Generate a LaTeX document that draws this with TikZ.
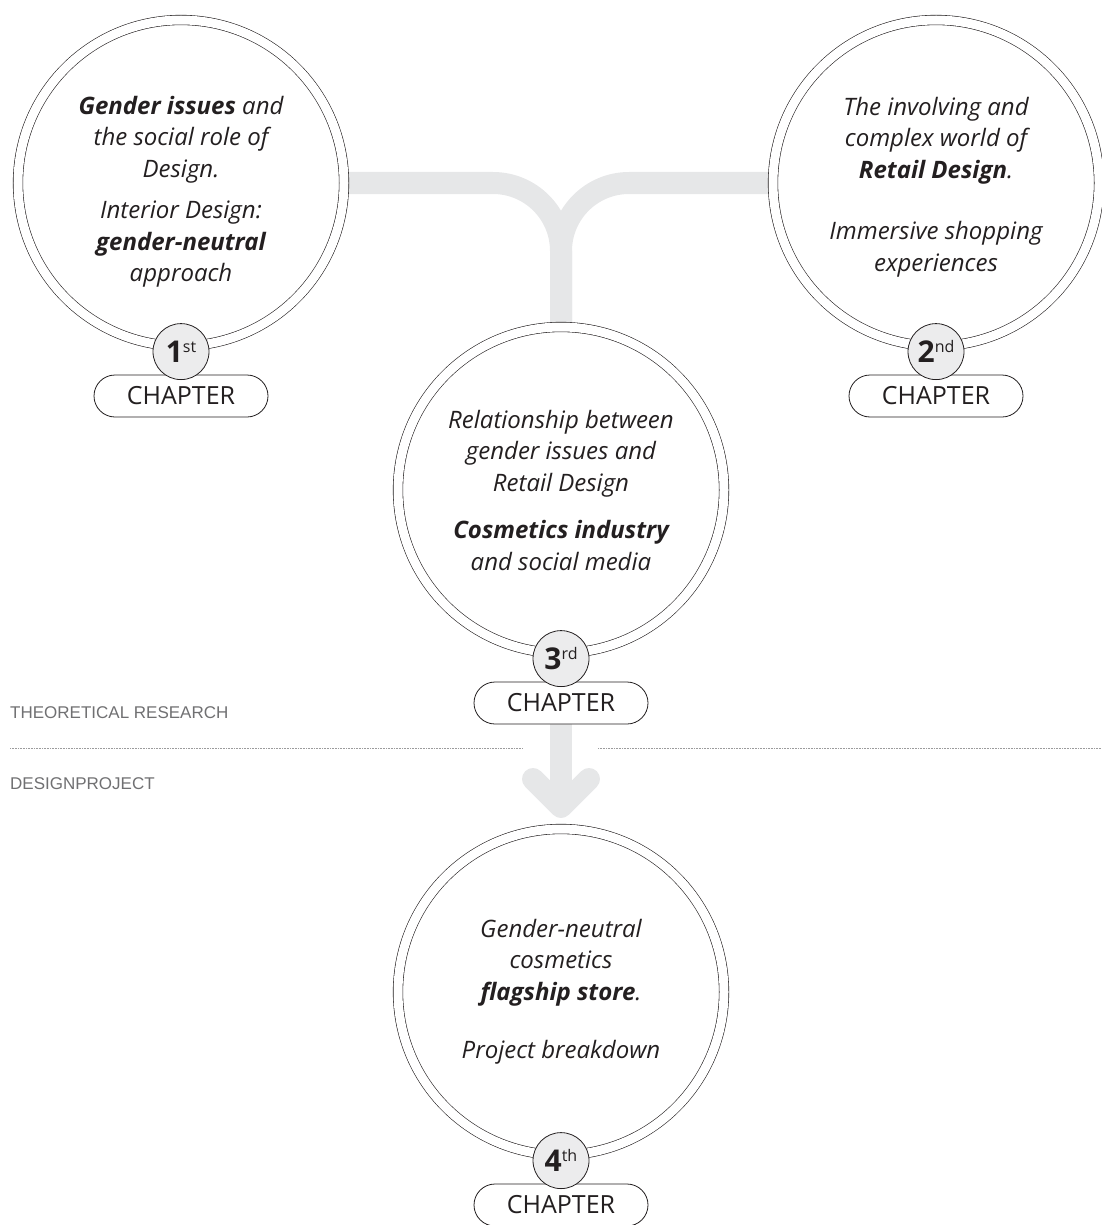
\documentclass[tikz,border=0pt]{standalone}
\usepackage{fontspec}
\setmainfont{Open Sans}
\newfontfamily\labelfont{Liberation Sans}
\usetikzlibrary{positioning, calc, backgrounds}
\definecolor{bandgrey}{RGB}{230,231,232}
\definecolor{badgegrey}{RGB}{236,236,237}
\definecolor{labelgrey}{RGB}{112,112,114}
\definecolor{inkgrey}{RGB}{35,31,32}

\tikzset{
  ring/.style={circle, draw=inkgrey, line width=0.6pt, double=white, double distance=9pt,
               minimum size=326pt, inner sep=0pt, outer sep=0pt},
  ringtext/.style={align=center, inner sep=0pt, text=inkgrey,
                   font=\fontsize{24}{31.5}\selectfont\itshape},
  badge/.style={circle, draw=inkgrey, line width=0.8pt, fill=badgegrey, minimum size=56pt,
                inner sep=0pt, text=inkgrey},
  pill/.style={draw=inkgrey, line width=0.8pt, fill=white, rounded corners=21pt,
               minimum width=174pt, minimum height=42pt, inner sep=0pt, outer sep=0pt,
               font=\fontsize{25}{25}\selectfont, text=inkgrey},
  band/.style={draw=bandgrey, line width=22pt},
  sectionlabel/.style={anchor=west, inner sep=0pt, text=labelgrey,
                       font=\labelfont\fontsize{17}{18}\selectfont},
  divider/.style={draw=labelgrey!70, line width=0.7pt, dash pattern=on 0.8pt off 0.8pt}
}
\newcommand{\chapnum}[2]{\textbf{\fontsize{30}{30}\selectfont #1}\raisebox{10pt}{\fontsize{16}{16}\selectfont #2}}

\begin{document}
\begin{tikzpicture}[x=1pt, y=-1pt]
    \useasboundingbox (0,0) rectangle (1101,1225);

    % chapter circles
    \node[ring] (one) at (181,183) {};
    \node[ring] (two) at (936,183) {};
    \node[ring] (three) at (561,490) {};
    \node[ring] (four) at (561,992) {};
    \node[ringtext] (onetext) at ($(one)+(0,9)$) {\textbf{Gender issues} and\\the social role of\\Design.\\[10pt]Interior Design:\\\textbf{gender-neutral}\\approach};
    \node[ringtext] (twotext) at ($(two)+(0,4)$) {The involving and\\complex world of\\\textbf{Retail Design}.\\[30pt]Immersive shopping\\experiences};
    \node[ringtext] (threetext) at (three) {Relationship between\\gender issues and\\Retail Design\\[16pt]\textbf{Cosmetics industry}\\and social media};
    \node[ringtext] (fourtext) at (four) {Gender-neutral\\cosmetics\\\textbf{flagship store}.\\[27pt]Project breakdown};

    % chapter tags
    \node[pill] (tag1) at ($(one.south)+(0,50)$) {CHAPTER};
    \node[pill] (tag2) at ($(two.south)+(0,50)$) {CHAPTER};
    \node[pill] (tag3) at ($(three.south)+(0,50)$) {CHAPTER};
    \node[pill] (tag4) at ($(four.south)+(0,50)$) {CHAPTER};
    \node[badge, above=-5pt of tag1] (num1) {\chapnum{1}{st}};
    \node[badge, above=-5pt of tag2] (num2) {\chapnum{2}{nd}};
    \node[badge, above=-5pt of tag3] (num3) {\chapnum{3}{rd}};
    \node[badge, above=-5pt of tag4] (num4) {\chapnum{4}{th}};

    % connectors
    \coordinate (tip) at ($(four.north)+(0,-22)$);
    \begin{pgfonlayer}{background}
        \draw[band, rounded corners=68pt] (one.east) -| (three.north);
        \draw[band, rounded corners=68pt] (two.west) -| (three.north);
        \draw[band] (tag3.south) -- (tip);
        \draw[band, line cap=round, line join=round] ($(tip)+(-28,-28)$) -- (tip) -- ($(tip)+(28,-28)$);
    \end{pgfonlayer}

    % research / project split
    \node[sectionlabel] (theory) at (10,713) {THEORETICAL RESEARCH};
    \node[sectionlabel] (project) at (10,784) {DESIGNPROJECT};
    \draw[divider] (10,748) -- (523,748);
    \draw[divider] (598,748) -- (1101,748);
\end{tikzpicture}
\end{document}
